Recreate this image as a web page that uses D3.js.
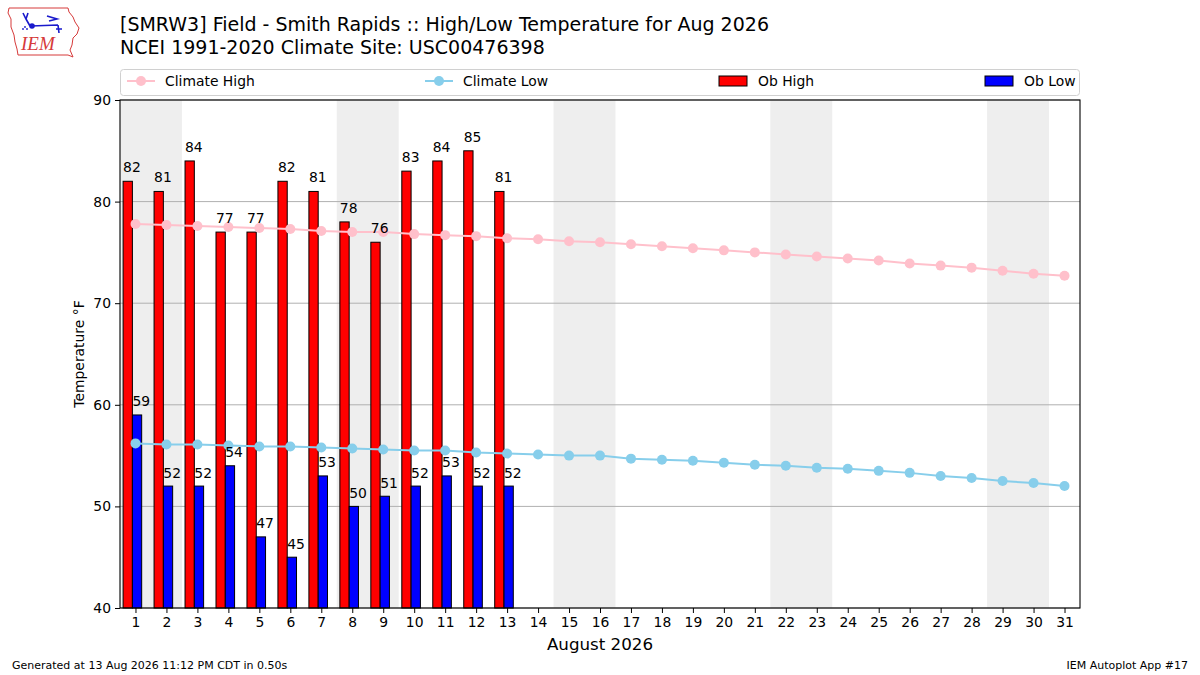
<!DOCTYPE html>
<html>
<head>
<meta charset="utf-8">
<script src="https://cdn.jsdelivr.net/npm/d3@7"></script>
<style>
  body { margin: 0; background: #fff; }
  svg { font-family: "DejaVu Sans", sans-serif; }
</style>
</head>
<body>
<div id="chart"></div>
<script>
// Chart size and plot box
const width = 1200;
const height = 675;
const box = { left: 120, right: 1080, top: 100, bottom: 608 };

// Days of the month
const days = [1, 2, 3, 4, 5, 6, 7, 8, 9, 10, 11, 12, 13, 14, 15, 16,
  17, 18, 19, 20, 21, 22, 23, 24, 25, 26, 27, 28, 29, 30, 31];

// NCEI 1991-2020 daily climate
const climateHigh = [77.8, 77.7, 77.6, 77.5, 77.4, 77.3, 77.1, 77.0, 77.0, 76.8, 76.7, 76.6, 76.4,
  76.3, 76.1, 76.0, 75.8, 75.6, 75.4, 75.2, 75.0, 74.8, 74.6, 74.4, 74.2, 73.9, 73.7, 73.5, 73.2, 72.9, 72.7];
const climateLow = [56.2, 56.1, 56.1, 56.0, 55.9, 55.9, 55.8, 55.7, 55.6, 55.5, 55.5, 55.3, 55.2,
  55.1, 55.0, 55.0, 54.7, 54.6, 54.5, 54.3, 54.1, 54.0, 53.8, 53.7, 53.5, 53.3, 53.0, 52.8, 52.5, 52.3, 52.0];

// Observed so far (Aug 1 - 13)
const obDays = [1, 2, 3, 4, 5, 6, 7, 8, 9, 10, 11, 12, 13];
const obHigh = [82, 81, 84, 77, 77, 82, 81, 78, 76, 83, 84, 85, 81];
const obLow = [59, 52, 52, 54, 47, 45, 53, 50, 51, 52, 53, 52, 52];

// Weekends (shaded)
const weekends = [[1, 2], [8, 9], [15, 16], [22, 23], [29, 30]];

// Axis ticks
const yTicks = [40, 50, 60, 70, 80, 90];

const titleLines = [
  '[SMRW3] Field - Smith Rapids :: High/Low Temperature for Aug 2026',
  'NCEI 1991-2020 Climate Site: USC00476398'
];

const svg = d3.select('#chart')
  .append('svg')
  .attr('width', width)
  .attr('height', height);

// Scales
const x = d3.scaleLinear().domain([0.5, 31.5]).range([box.left, box.right]);
const y = d3.scaleLinear().domain([40, 90]).range([box.bottom, box.top]);

// Weekend shading
svg.selectAll('.weekend')
  .data(weekends)
  .enter()
  .append('rect')
  .attr('x', d => x(d[0] - 0.5))
  .attr('y', box.top)
  .attr('width', d => x(d[1] + 0.5) - x(d[0] - 0.5))
  .attr('height', box.bottom - box.top)
  .attr('fill', '#eeeeee');

// Horizontal grid
svg.append('g')
  .selectAll('line')
  .data(yTicks)
  .enter()
  .append('line')
  .attr('x1', box.left)
  .attr('x2', box.right)
  .attr('y1', d => y(d))
  .attr('y2', d => y(d))
  .attr('stroke', '#b0b0b0')
  .attr('stroke-width', 1);

// Bars
const obs = obDays.map((d, i) => ({ day: d, high: obHigh[i], low: obLow[i] }));

svg.selectAll('.bar-high')
  .data(obs)
  .enter()
  .append('rect')
  .attr('x', d => x(d.day - 0.4))
  .attr('y', d => y(d.high))
  .attr('width', d => x(d.day - 0.1) - x(d.day - 0.4))
  .attr('height', d => y(40) - y(d.high))
  .attr('fill', 'red')
  .attr('stroke', '#000')
  .attr('stroke-width', 1);

svg.selectAll('.bar-low')
  .data(obs)
  .enter()
  .append('rect')
  .attr('x', d => x(d.day - 0.1))
  .attr('y', d => y(d.low))
  .attr('width', d => x(d.day + 0.2) - x(d.day - 0.1))
  .attr('height', d => y(40) - y(d.low))
  .attr('fill', 'blue')
  .attr('stroke', '#000')
  .attr('stroke-width', 1);

// Climate lines
const line = d3.line().x((d, i) => x(days[i])).y(d => y(d));

[[climateHigh, 'pink'], [climateLow, 'skyblue']].forEach(([vals, color]) => {
  svg.append('path')
    .datum(vals)
    .attr('d', line)
    .attr('fill', 'none')
    .attr('stroke', color)
    .attr('stroke-width', 2);
  svg.append('g')
    .selectAll('circle')
    .data(vals)
    .enter()
    .append('circle')
    .attr('cx', (d, i) => x(days[i]))
    .attr('cy', d => y(d))
    .attr('r', 5)
    .attr('fill', color);
});

// Bar value labels
svg.selectAll('.lab-high')
  .data(obs)
  .enter()
  .append('text')
  .attr('x', d => x(d.day - 0.4))
  .attr('y', d => y(d.high) - 9)
  .attr('font-size', 13.9)
  .text(d => d.high);

svg.selectAll('.lab-low')
  .data(obs)
  .enter()
  .append('text')
  .attr('x', d => x(d.day - 0.1))
  .attr('y', d => y(d.low) - 8.5)
  .attr('font-size', 13.9)
  .text(d => d.low);

// Frame
svg.append('rect')
  .attr('x', box.left)
  .attr('y', box.top)
  .attr('width', box.right - box.left)
  .attr('height', box.bottom - box.top)
  .attr('fill', 'none')
  .attr('stroke', '#000')
  .attr('stroke-width', 1.1);

// Axes
const yAxis = svg.append('g')
  .attr('transform', `translate(${box.left},0)`)
  .call(d3.axisLeft(y).tickValues(yTicks).tickSize(5).tickPadding(4).tickSizeOuter(0));
const xAxis = svg.append('g')
  .attr('transform', `translate(0,${box.bottom})`)
  .call(d3.axisBottom(x).tickValues(days).tickFormat(d3.format('d')).tickSize(5).tickPadding(4).tickSizeOuter(0));
[yAxis, xAxis].forEach(g => {
  g.select('.domain').remove();
  g.selectAll('text').attr('font-size', 13.9).attr('font-family', 'DejaVu Sans').attr('fill', '#000');
  g.selectAll('line').attr('stroke', '#000');
});

svg.append('text')
  .attr('transform', `translate(84,${(box.top + box.bottom) / 2}) rotate(-90)`)
  .attr('text-anchor', 'middle')
  .attr('font-size', 13.9)
  .text('Temperature °F');

svg.append('text')
  .attr('x', (box.left + box.right) / 2)
  .attr('y', 650)
  .attr('text-anchor', 'middle')
  .attr('font-size', 16.7)
  .text('August 2026');

// Legend
svg.append('rect')
  .attr('x', 120.5)
  .attr('y', 69.5)
  .attr('width', 959)
  .attr('height', 26)
  .attr('rx', 3)
  .attr('fill', '#fff')
  .attr('stroke', '#d0d0d0');

const legendItems = [
  { label: 'Climate High', color: 'pink', kind: 'line', x: 127 },
  { label: 'Climate Low', color: 'skyblue', kind: 'line', x: 425 },
  { label: 'Ob High', color: 'red', kind: 'bar', x: 719 },
  { label: 'Ob Low', color: 'blue', kind: 'bar', x: 985 }
];
const lg = svg.append('g').selectAll('g').data(legendItems).enter().append('g')
  .attr('transform', d => `translate(${d.x},81)`);
lg.filter(d => d.kind === 'line').append('line')
  .attr('x1', 0).attr('x2', 28).attr('y1', 0).attr('y2', 0)
  .attr('stroke', d => d.color).attr('stroke-width', 2);
lg.filter(d => d.kind === 'line').append('circle')
  .attr('cx', 14).attr('cy', 0).attr('r', 5).attr('fill', d => d.color);
lg.filter(d => d.kind === 'bar').append('rect')
  .attr('x', 0).attr('y', -5).attr('width', 28).attr('height', 10)
  .attr('fill', d => d.color).attr('stroke', '#000');
lg.append('text')
  .attr('x', d => d.kind === 'line' ? 38 : 39)
  .attr('y', 5)
  .attr('font-size', 13.9)
  .text(d => d.label);

// Titles
svg.selectAll('.title')
  .data(titleLines)
  .enter()
  .append('text')
  .attr('x', 120)
  .attr('y', (d, i) => 31 + i * 23)
  .attr('font-size', 19)
  .text(d => d);

// Footer
svg.append('text').attr('x', 12).attr('y', 669).attr('font-size', 11)
  .text('Generated at 13 Aug 2026 11:12 PM CDT in 0.50s');
svg.append('text').attr('x', 1188).attr('y', 669).attr('font-size', 11).attr('text-anchor', 'end')
  .text('IEM Autoplot App #17');

// IEM logo (rough)
const logo = svg.append('g');
logo.append('path')
  .attr('d', 'M9,8 L68,8 L69,12 L73,17 L75,22 L79,28 L77,34 L73,38 L72,45 L70,50 L73,57 L68,55 L18,55 L17,49 L15,42 L14,35 L11,27 L11,19 L8,13 Z')
  .attr('fill', 'none')
  .attr('stroke', '#d63a3a')
  .attr('stroke-width', 1);
logo.append('path')
  .attr('d', 'M31,26 L58,25 M47,16 L57,19 L49,21 M58,25 L59,33 M56,29 L62,29 M30,26 L26,19 L23,13 M26,19 L28,13')
  .attr('fill', 'none')
  .attr('stroke', '#1a1acc')
  .attr('stroke-width', 1.6);
logo.append('circle').attr('cx', 32).attr('cy', 26).attr('r', 2.8).attr('fill', '#1a1acc');
logo.append('circle').attr('cx', 25).attr('cy', 27).attr('r', 0.9).attr('fill', '#1a1acc');
logo.append('circle').attr('cx', 23).attr('cy', 29).attr('r', 0.9).attr('fill', '#1a1acc');
logo.append('circle').attr('cx', 27).attr('cy', 29).attr('r', 0.9).attr('fill', '#1a1acc');
logo.append('text')
  .attr('x', 21)
  .attr('y', 50)
  .attr('font-family', 'Liberation Serif')
  .attr('font-style', 'italic')
  .attr('font-size', 19)
  .attr('fill', '#d63a3a')
  .text('IEM');
</script>
</body>
</html>
